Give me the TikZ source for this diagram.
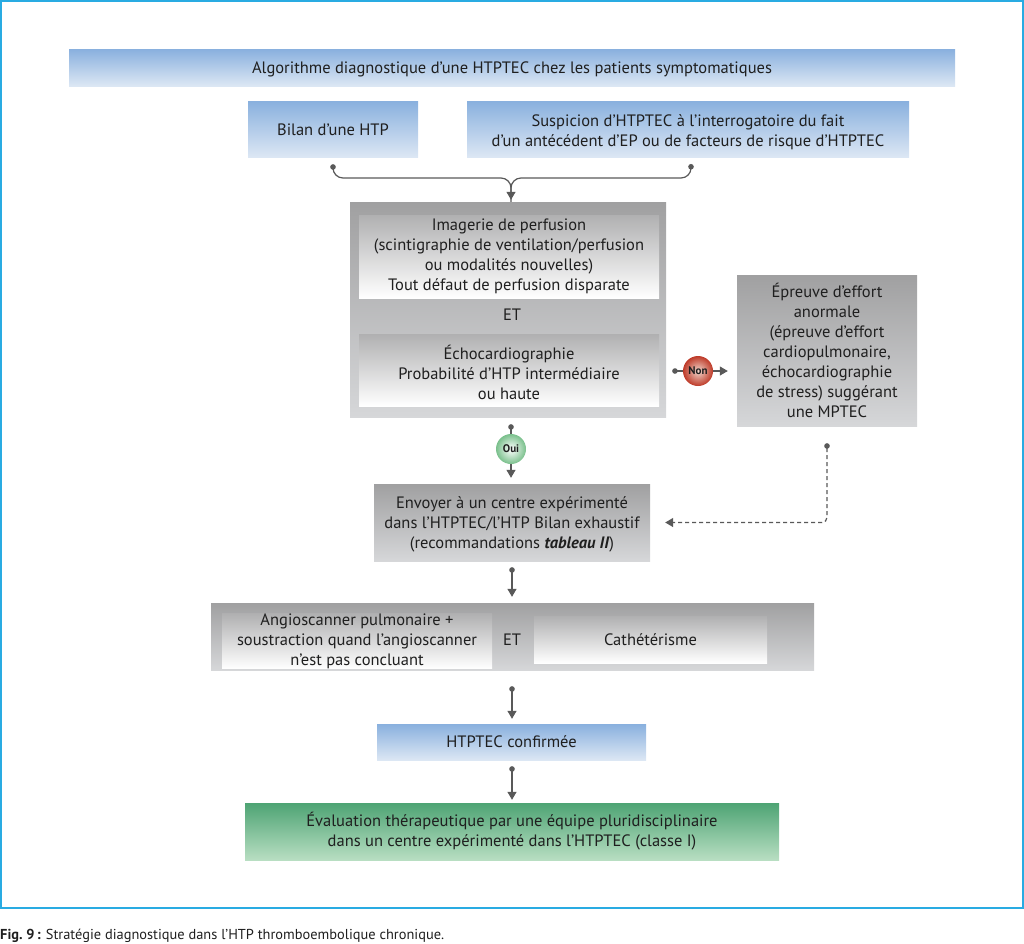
\documentclass[tikz,border=0pt]{standalone}
\usepackage{fontspec}
\setmainfont{PT Sans}
\usetikzlibrary{arrows.meta,backgrounds,positioning,shapes}
\definecolor{frameblue}{HTML}{29ABE2}
\definecolor{linkgray}{HTML}{595959}
\definecolor{textgray}{HTML}{1F1F1F}

\begin{document}
\begin{tikzpicture}[x=1pt,y=-1pt]
	\tikzstyle{Box}		= [rectangle, align=center, inner sep=0pt, text=textgray, font=\fontsize{16.5}{20}\selectfont]
	\tikzstyle{Blue}	= [Box, top color={rgb,255:red,137;green,176;blue,222}, bottom color={rgb,255:red,220;green,231;blue,244}]
	\tikzstyle{Green}	= [Box, top color={rgb,255:red,78;green,164;blue,116}, bottom color={rgb,255:red,184;green,222;blue,194}]
	\tikzstyle{Gray}	= [Box, top color={rgb,255:red,160;green,160;blue,161}, bottom color={rgb,255:red,214;green,215;blue,217}]
	\tikzstyle{Inner}	= [Box, top color={rgb,255:red,176;green,176;blue,177}, bottom color=white]
	\tikzstyle{Answer}	= [circle, minimum size=30pt, inner sep=0pt, text=textgray, font=\fontsize{11}{12}\bfseries\selectfont]
	\tikzstyle{Link}	= [line width=1.2pt, linkgray, {Circle[length=5.5pt]}-{Triangle[length=8pt,width=9pt]}]
	\tikzstyle{Free}	= [line width=1.2pt, linkgray, -{Triangle[length=8pt,width=9pt]}]
	\tikzstyle{Start}	= [line width=1.2pt, linkgray, {Circle[length=5.5pt]}-]

	\useasboundingbox (0,0) rectangle (1024,943);
	\draw [frameblue, line width=2pt] (1,1) rectangle (1023,908);

	\node (title) at (512,67.5) [Blue, minimum width=886pt, minimum height=37pt] {\rule{0pt}{16pt}Algorithme diagnostique d’une HTPTEC chez les patients symptomatiques};
	\node (bilan) at (333,129) [Blue, minimum width=170pt, minimum height=56pt] {\rule{0pt}{14pt}Bilan d’une HTP};
	\node (suspicion) at (688,129) [Blue, minimum width=442pt, minimum height=56pt] {\rule{0pt}{18pt}Suspicion d’HTPTEC à l’interrogatoire du fait\\d’un antécédent d’EP ou de facteurs de risque d’HTPTEC};

	\node (bigbox) at (508,309.5) [Gray, minimum width=316pt, minimum height=215pt] {};
	\node (imagerie) at (509,256.5) [Inner, minimum width=300pt, minimum height=83pt] {Imagerie de perfusion\\(scintigraphie de ventilation/perfusion\\ou modalités nouvelles)\\Tout défaut de perfusion disparate};
	\node (et1) at (512,315) [Box] {ET};
	\node (echo) at (509,370) [Inner, minimum width=300pt, minimum height=72pt] {\rule{0pt}{20pt}Échocardiographie\\Probabilité d’HTP intermédiaire\\ou haute};

	\node (effort) at (827,350.5) [Gray, minimum width=180pt, minimum height=151pt] {Épreuve d’effort\\anormale\\(épreuve d’effort\\cardiopulmonaire,\\échocardiographie\\de stress) suggérant\\une MPTEC};
	\node (non) at (698,371) [Answer, inner color={rgb,255:red,240;green,214;blue,204}, outer color={rgb,255:red,190;green,58;blue,40}] {Non};
	\node (oui) at (511,449) [Answer, inner color=white, outer color={rgb,255:red,122;green,192;blue,140}] {Oui};

	\node (envoyer) at (512,522.5) [Gray, minimum width=276pt, minimum height=77pt] {\rule{0pt}{16pt}Envoyer à un centre expérimenté\\dans l’HTPTEC/l’HTP Bilan exhaustif\\(recommandations \textbf{\textit{tableau II}})};

	\node (angio) at (512.5,636.5) [Gray, minimum width=603pt, minimum height=67pt] {};
	\node (scanner) at (357,641) [Inner, minimum width=270pt, minimum height=54pt] {Angioscanner pulmonaire +\\soustraction quand l’angioscanner\\n’est pas concluant};
	\node (et2) at (512,640) [Box] {ET};
	\node (cathe) at (650.5,639.5) [Inner, minimum width=233pt, minimum height=47pt] {Cathétérisme};

	\node (confirm) at (511.5,742) [Blue, minimum width=269pt, minimum height=36pt] {HTPTEC confirmée};
	\node (green) at (512,831.5) [Green, minimum width=534pt, minimum height=57pt] {Évaluation thérapeutique par une équipe pluridisciplinaire\\dans un centre expérimenté dans l’HTPTEC (classe I)};

	\node (caption) at (0,936) [anchor=west, inner sep=0pt, text=textgray, font=\fontsize{14.4}{16}\selectfont] {\textbf{Fig.~9\,:} Stratégie diagnostique dans l’HTP thromboembolique chronique.};

	\coordinate (merge) at (511,178);
	\coordinate (susp) at (691,157);

	\draw [Start, rounded corners=10pt, shorten <=7pt] (bilan.south) -- (bilan.south |- merge) -- (merge) -- (merge |- bigbox.north);
	\draw [Link, rounded corners=10pt, shorten <=7pt, shorten >=2pt] (susp) -- (susp |- merge) -- (merge) -- (merge |- bigbox.north);
	\draw [Start, shorten <=6pt] (bigbox.east |- non) to (non);
	\draw [Free, shorten >=9pt] (non) to (effort.west |- non);
	\draw [Start, shorten <=7pt] (oui |- bigbox.south) to (oui);
	\draw [Free, shorten >=6pt] (oui) to (oui |- envoyer.north);
	\draw [Link, dash pattern=on 4pt off 3pt, rounded corners=5pt, shorten <=17pt, shorten >=15pt] (effort.south) |- (envoyer.east);
	\draw [Link, shorten <=6pt, shorten >=6pt] (envoyer.south) to (envoyer.south |- angio.north);
	\draw [Link, shorten <=16pt, shorten >=5pt] (envoyer.south |- angio.south) to (envoyer.south |- confirm.north);
	\draw [Link, shorten <=6pt, shorten >=3pt] (envoyer.south |- confirm.south) to (envoyer.south |- green.north);
\end{tikzpicture}
\end{document}
